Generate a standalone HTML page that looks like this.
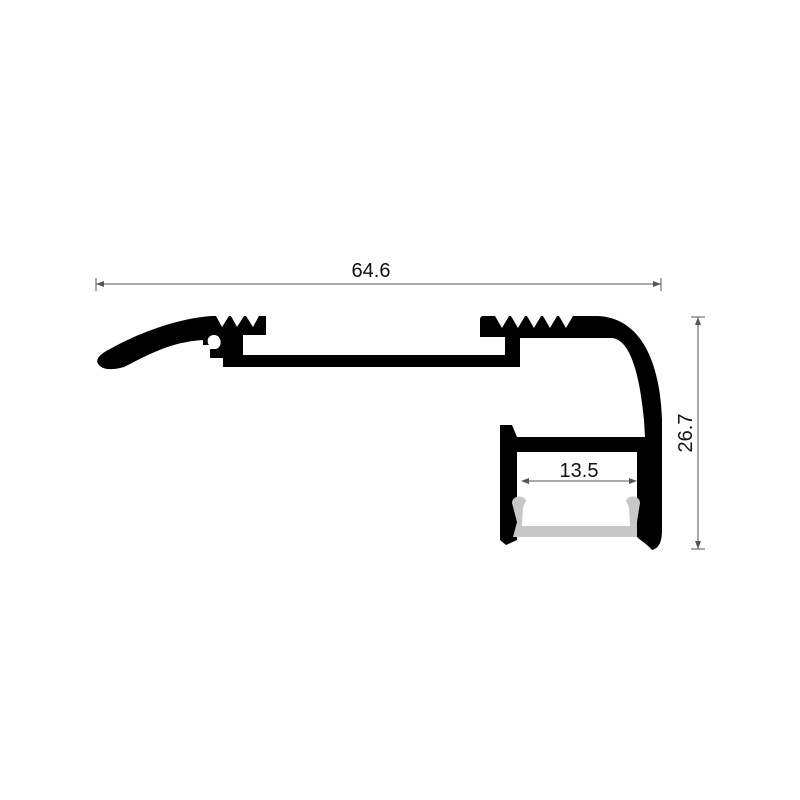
<!DOCTYPE html>
<html><head><meta charset="utf-8"><style>html,body{margin:0;background:#fff}svg{display:block}</style></head><body>
<svg width="800" height="800" viewBox="0 0 800 800" xmlns="http://www.w3.org/2000/svg">
<g stroke="#555" stroke-width="1" fill="none">
<line x1="96" y1="284" x2="661" y2="284"/>
<line x1="96" y1="278" x2="96" y2="291"/>
<line x1="661" y1="278" x2="661" y2="291"/>
<line x1="698" y1="317" x2="698" y2="549"/>
<line x1="691" y1="317" x2="705" y2="317"/>
<line x1="691" y1="549" x2="705" y2="549"/>
</g>
<path d="M96 284 l8 -3 v6z M661 284 l-8 -3 v6z M698 317 l-3 8 h6z M698 549 l-3 -8 h6z" fill="#555"/>
<text x="371" y="277" font-family="Liberation Sans, sans-serif" font-size="20" text-anchor="middle" fill="#111">64.6</text>
<text transform="translate(692,433) rotate(-90)" font-family="Liberation Sans, sans-serif" font-size="20" text-anchor="middle" fill="#111">26.7</text>
<!-- left part -->
<path fill="#000" d="M100 366 C94 361 98 355 110 349 C140 332 180 318 212 316 L216 316 L222 327 L229 316 L231 316 L237 327 L244 316 L246 316 L253 327 L259 316 L266 316 L266 335 L243 335 L243 355 L243 367 L223 367 L223 358 L210 358 L210 349 L216 349 C223 347 222 335 214 335 C208 335 206 341 209 345 L203 345 L203 340 C170 342 148 355 124 367 C114 370 104 370 100 366 Z"/>
<rect x="240" y="355" width="275" height="12" fill="#000"/>
<!-- right part -->
<path fill="#000" d="M505 367 L520 367 L520 338 L612 338 C632 340 640 380 644 420 L645 437 L517 437 L517 452 L637 452 L637 537 C640 540 646 543 652 550 C660 548 662 540 662 530 L662 420 C660 360 640 318 598 316 L573 316 L566 328 L559 316 L557 316 L550 328 L543 316 L541 316 L534 328 L527 316 L525 316 L518 328 L511 316 L509 316 L502 328 L495 316 L482 316 L480 318 L480 337 L505 337 Z"/>
<path fill="#000" d="M500 425 L512 425 L517 437 L517 540 L506 545 L500 540 Z"/>
<path fill="#c8c8c8" d="M512 503 C512 496 522 494 526 500 L523 508 L522 526 L630 526 L629 508 L626 500 C630 494 640 496 640 503 L637 522 L637 537 L513 537 L517 522 Z"/>
<line x1="522" y1="481" x2="636" y2="481" stroke="#555" stroke-width="1"/>
<path d="M521 481 l8 -3 v6z M637 481 l-8 -3 v6z" fill="#555"/>
<text x="579" y="477" font-family="Liberation Sans, sans-serif" font-size="20" text-anchor="middle" fill="#111">13.5</text>
</svg>
</body></html>
